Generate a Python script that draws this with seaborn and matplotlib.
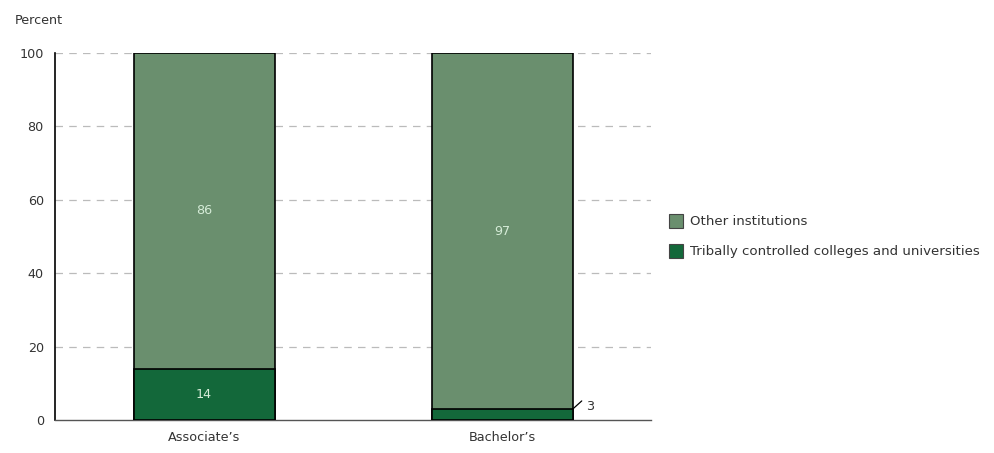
import matplotlib
matplotlib.use("Agg")
import matplotlib.pyplot as plt
from matplotlib.patches import Patch
import seaborn as sns
import pandas as pd

degrees = ["Associate’s", "Bachelor’s"]
tribal = [14, 3]
other = [86, 97]

series_names = ["Other institutions", "Tribally controlled colleges and universities"]
other_color = "#6a8f6e"
tribal_color = "#13683a"
label_color = "#d6ecd8"

df = pd.DataFrame({"degree": degrees, "tribal": tribal, "other": other})
df["total"] = df["tribal"] + df["other"]

sns.set_style("white")
plt.rcParams["font.family"] = ["DejaVu Sans"]
fs = 9.2

fig = plt.figure(figsize=(9.94, 4.53), dpi=100)
ax = fig.add_axes([0.0553, 0.0728, 0.6, 0.8102])

# Stacked bars: full stack first, then the lower segment over it
sns.barplot(data=df, x="degree", y="total", color=other_color, width=0.473,
            edgecolor="black", linewidth=1.2, saturation=1, ax=ax, zorder=3)
sns.barplot(data=df, x="degree", y="tribal", color=tribal_color, width=0.473,
            edgecolor="black", linewidth=1.2, saturation=1, ax=ax, zorder=4)

ax.set_xlim(-0.5, 1.5)
ax.set_ylim(0, 100)
ax.set_yticks([0, 20, 40, 60, 80, 100])
ax.set_xlabel("")
ax.set_ylabel("")
for y in [20, 40, 60, 80, 100]:
    ax.axhline(y, color="#bbbbbb", linestyle=(0, (6, 5)), linewidth=0.9, zorder=1)

for side in ["top", "right"]:
    ax.spines[side].set_visible(False)
ax.spines["left"].set_color("black")
ax.spines["bottom"].set_color("#555555")
ax.spines["left"].set_linewidth(1.2)
ax.spines["bottom"].set_linewidth(1.0)
ax.tick_params(axis="y", direction="out", length=6, width=1.0, colors="black",
               labelsize=fs, labelcolor="#333333", pad=2)
ax.tick_params(axis="x", length=0, labelsize=fs, labelcolor="#333333", pad=8)

# Value labels
for i, (t, o) in enumerate(zip(tribal, other)):
    ax.text(i, t + o / 2, f"{o}", ha="center", va="center",
            color=label_color, fontsize=fs, zorder=5)
    if t >= 8:
        ax.text(i, t / 2, f"{t}", ha="center", va="center",
                color=label_color, fontsize=fs, zorder=5)
    else:
        x_edge = i + 0.473 / 2
        ax.plot([x_edge, x_edge + 0.03], [t, t + 2.2], color="black",
                linewidth=0.9, zorder=5, clip_on=False)
        ax.text(x_edge + 0.045, t + 0.6, f"{t}", ha="left", va="center",
                color="#333333", fontsize=fs, zorder=5)

fig.text(0.015, 0.955, "Percent", ha="left", va="center", fontsize=fs, color="#333333")

handles = [Patch(facecolor=other_color, edgecolor="#444444", linewidth=0.8),
           Patch(facecolor=tribal_color, edgecolor="#444444", linewidth=0.8)]
fig.legend(handles, series_names, loc="center left", bbox_to_anchor=(0.661, 0.479),
           frameon=False, fontsize=9.6, handlelength=1.05, handleheight=1.25,
           handletextpad=0.55, labelspacing=1.15, labelcolor="#333333")

fig.savefig("out.png", dpi=100, facecolor="white")
